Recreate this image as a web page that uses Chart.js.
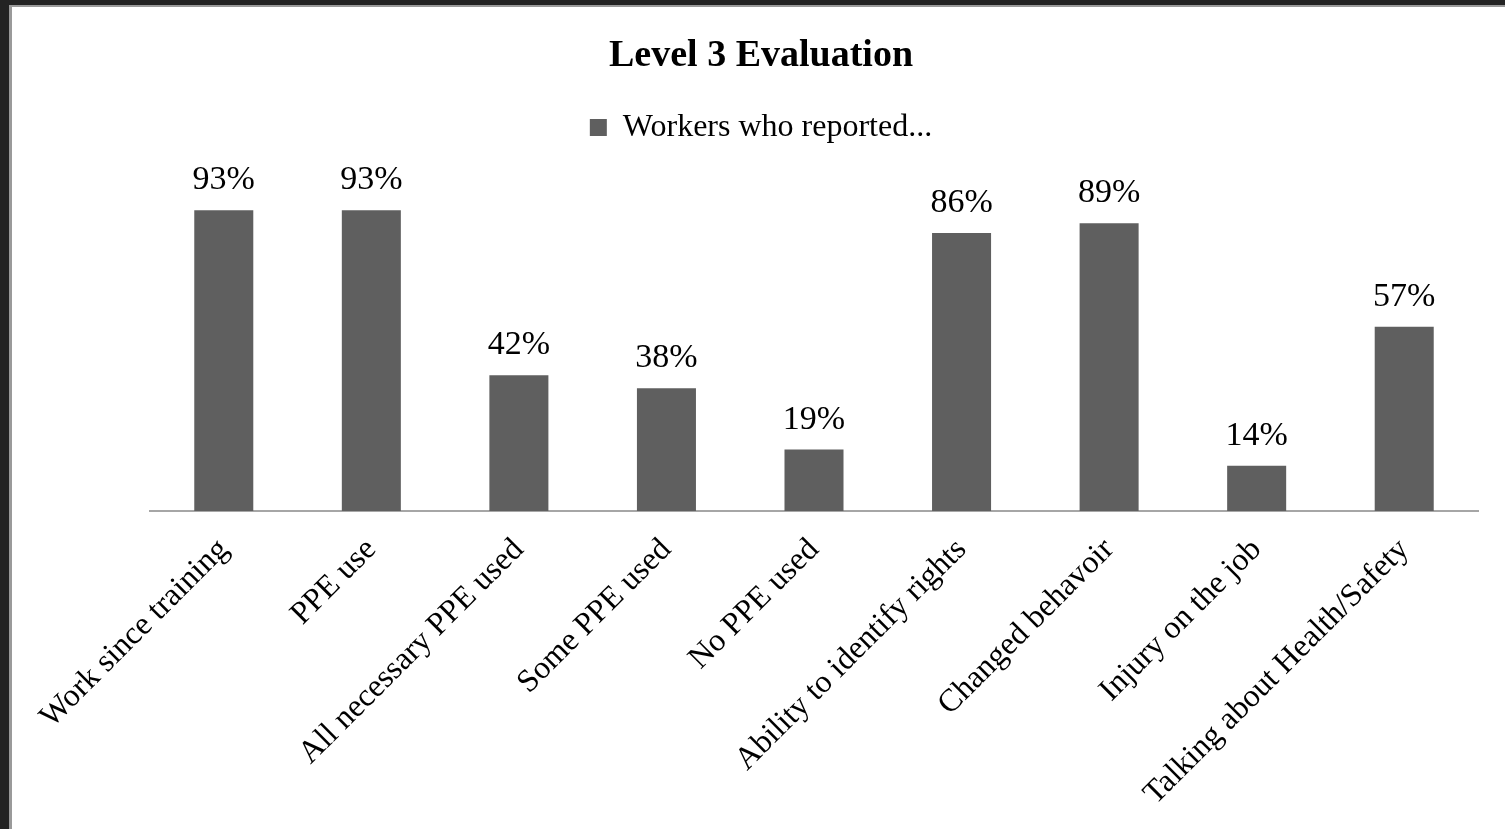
<!DOCTYPE html>
<html>
<head>
<meta charset="utf-8">
<script src="https://cdn.jsdelivr.net/npm/chart.js@4"></script>
<style>
  html, body { margin: 0; padding: 0; background: #232323; overflow: hidden; }
  #frame {
    position: absolute; left: 9px; top: 5px; right: 0; bottom: 0;
    border-left: 3px solid #9a9a9a; border-top: 2px solid #9a9a9a;
    background: #fff;
  }
  #box { position: absolute; left: 0; top: 0; width: 1493px; height: 822px; }
</style>
</head>
<body>
<div id="frame"><div id="box"><canvas id="grafico"></canvas></div></div>
<script>
// dati
var categorie = ['Work since training', 'PPE use', 'All necessary PPE used', 'Some PPE used',
                 'No PPE used', 'Ability to identify rights', 'Changed behavoir',
                 'Injury on the job', 'Talking about Health/Safety'];
var percentuali = [93, 93, 42, 38, 19, 86, 89, 14, 57];
var nomeSerie = 'Workers who reported...';
var titolo = 'Level 3 Evaluation';

var serif = "'Liberation Serif', 'Times New Roman', serif";

// etichette sopra le barre
var etichette = {
    id: 'etichette',
    afterDatasetsDraw: function (chart) {
        var ctx = chart.ctx;
        var meta = chart.getDatasetMeta(0);
        ctx.save();
        ctx.font = '34px ' + serif;
        ctx.fillStyle = '#000';
        ctx.textAlign = 'center';
        ctx.textBaseline = 'bottom';
        meta.data.forEach(function (bar, i) {
            ctx.fillText(percentuali[i] + '%', bar.x, bar.y - 13);
        });
        ctx.restore();
    }
};

var ctx = document.getElementById('grafico');
var chart = new Chart(ctx, {
    type: 'bar',
    data: {
        labels: categorie,
        datasets: [{
            label: nomeSerie,
            data: percentuali,
            backgroundColor: '#5f5f5f',
            borderWidth: 0,
            barPercentage: 0.4,
            categoryPercentage: 1
        }]
    },
    options: {
        responsive: true,
        maintainAspectRatio: false,
        animation: false,
        layout: { padding: { left: 32, right: 27, top: 0, bottom: -4 } },
        plugins: {
            title: {
                display: true,
                text: titolo,
                color: '#000',
                font: { family: serif, size: 38, weight: 'bold' },
                padding: { top: 26, bottom: 23 }
            },
            // solo spazio vuoto sotto la legenda
            subtitle: {
                display: true,
                text: ' ',
                weight: 500,
                font: { size: 10, lineHeight: 1 },
                padding: { top: 24, bottom: 0 }
            },
            legend: {
                display: true,
                labels: {
                    color: '#000',
                    font: { family: serif, size: 32 },
                    boxWidth: 17,
                    boxHeight: 17,
                    padding: 10
                }
            },
            tooltip: { enabled: false }
        },
        scales: {
            x: {
                grid: { display: false, drawTicks: false },
                border: { display: true, color: '#a6a6a6', width: 2 },
                ticks: {
                    color: '#000',
                    font: { family: serif, size: 32 },
                    minRotation: 45,
                    maxRotation: 45,
                    autoSkip: false,
                    padding: 20
                }
            },
            y: {
                display: true,
                min: 0,
                max: 100,
                ticks: { display: false },
                grid: { display: false },
                border: { display: false },
                afterFit: function (scale) { scale.width = 106; }
            }
        }
    },
    plugins: [etichette]
});
</script>
</body>
</html>
